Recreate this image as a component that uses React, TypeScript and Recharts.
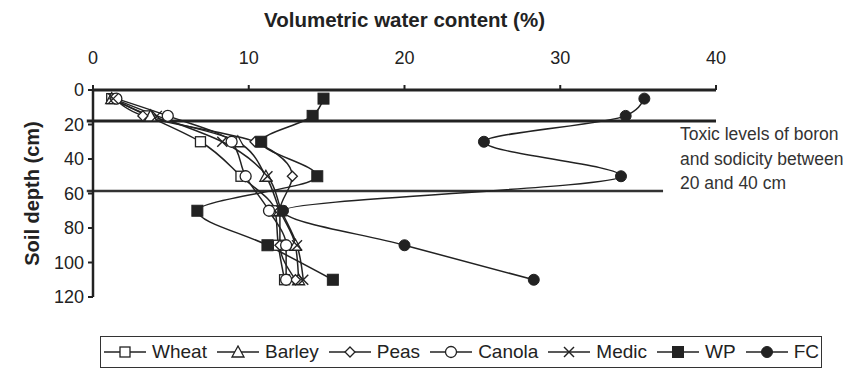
import React from 'react';
import { LineChart, Line, XAxis, YAxis, ReferenceLine } from 'recharts';

const depths = [5, 15, 30, 50, 70, 90, 110];
const wheat = [1.2, 3.5, 6.9, 9.5, 11.7, 11.9, 12.3];
const barley = [1.2, 3.7, 9.3, 11.1, 12.0, 13.0, 13.2];
const peas = [1.4, 3.2, 10.4, 12.8, 12.0, 12.0, 13.0];
const canola = [1.5, 4.8, 8.9, 9.8, 11.3, 12.4, 12.4];
const medic = [1.3, 4.1, 8.3, 11.2, 12.1, 13.1, 13.5];
const wp = [14.8, 14.1, 10.8, 14.4, 6.7, 11.2, 15.4];
const fc = [35.4, 34.2, 25.1, 33.9, 12.2, 20.0, 28.3];

const xTicks = [0, 10, 20, 30, 40];
const yTicks = [0, 20, 40, 60, 80, 100, 120];
const toxicTop = 18;
const toxicBottom = 58.5;

const data = depths.map((d, i) => ({
  depth: d,
  Wheat: wheat[i],
  Barley: barley[i],
  Peas: peas[i],
  Canola: canola[i],
  Medic: medic[i],
  WP: wp[i],
  FC: fc[i],
}));

const INK = '#222';
const FONT = '"Liberation Sans", Arial, sans-serif';

type Shape = 'square' | 'triangle' | 'diamond' | 'circle' | 'x' | 'fsquare' | 'fcircle';

function Marker({ shape, cx, cy }: { shape: Shape; cx: number; cy: number }) {
  const sw = 1.3;
  switch (shape) {
    case 'square':
      return <rect x={cx - 5} y={cy - 5} width={10} height={10} fill="#fff" stroke={INK} strokeWidth={sw} />;
    case 'triangle':
      return <polygon points={`${cx},${cy - 6} ${cx - 6},${cy + 5} ${cx + 6},${cy + 5}`} fill="#fff" stroke={INK} strokeWidth={sw} />;
    case 'diamond':
      return <polygon points={`${cx},${cy - 5} ${cx + 5},${cy} ${cx},${cy + 5} ${cx - 5},${cy}`} fill="#fff" stroke={INK} strokeWidth={sw} />;
    case 'circle':
      return <circle cx={cx} cy={cy} r={5.5} fill="#fff" stroke={INK} strokeWidth={sw} />;
    case 'x':
      return (
        <g stroke={INK} strokeWidth={1.4}>
          <line x1={cx - 5} y1={cy - 5} x2={cx + 5} y2={cy + 5} />
          <line x1={cx - 5} y1={cy + 5} x2={cx + 5} y2={cy - 5} />
        </g>
      );
    case 'fsquare':
      return <rect x={cx - 5.5} y={cy - 5.5} width={11} height={11} fill={INK} stroke={INK} />;
    case 'fcircle':
      return <circle cx={cx} cy={cy} r={5.5} fill={INK} stroke={INK} />;
  }
  return null;
}

const makeDot = (shape: Shape) => (props: any) => {
  const { cx, cy, index } = props;
  if (cx == null || cy == null) return <g key={`n${index}`} />;
  return (
    <g key={`${shape}${index}`}>
      <Marker shape={shape} cx={cx} cy={cy} />
    </g>
  );
};

const seriesDefs: { key: string; shape: Shape }[] = [
  { key: 'Wheat', shape: 'square' },
  { key: 'Barley', shape: 'triangle' },
  { key: 'Peas', shape: 'diamond' },
  { key: 'Canola', shape: 'circle' },
  { key: 'Medic', shape: 'x' },
  { key: 'WP', shape: 'fsquare' },
  { key: 'FC', shape: 'fcircle' },
];

function LegendBox() {
  return (
    <div
      style={{
        position: 'absolute',
        left: 92,
        top: 328,
        width: 722,
        height: 32,
        border: '1px solid #333',
        boxSizing: 'border-box',
        display: 'flex',
        alignItems: 'center',
        justifyContent: 'center',
        fontFamily: FONT,
        fontSize: 19,
        color: INK,
        whiteSpace: 'nowrap',
      }}
    >
      {seriesDefs.map((s, i) => (
        <span
          key={s.key}
          style={{ display: 'flex', alignItems: 'center', marginRight: i === seriesDefs.length - 1 ? 0 : 9 }}
        >
          <svg width={44} height={14} style={{ marginRight: 5 }}>
            <line x1={1} y1={7} x2={43} y2={7} stroke={INK} strokeWidth={1.5} />
            <Marker shape={s.shape} cx={22} cy={7} />
          </svg>
          <span>{s.key}</span>
        </span>
      ))}
    </div>
  );
}

export default function App() {
  return (
    <div style={{ position: 'relative', width: 844, height: 366 }}>
      <LineChart
        layout="vertical"
        width={844}
        height={366}
        data={data}
        margin={{ top: 22, right: 136, bottom: 77, left: 0 }}
      >
        <XAxis
          type="number"
          orientation="top"
          domain={[0, 40]}
          ticks={xTicks}
          height={60}
          tickSize={5}
          tickMargin={21}
          tick={{ fill: INK, fontSize: 18, fontFamily: FONT }}
          axisLine={{ stroke: INK, strokeWidth: 3 }}
          tickLine={{ stroke: INK, strokeWidth: 2 }}
          label={{
            content: (p: any) => {
              const vb = p.viewBox || { x: 85, y: 22, width: 623 };
              return (
                <text
                  x={vb.x + vb.width / 2}
                  y={19}
                  textAnchor="middle"
                  fontFamily={FONT}
                  fontSize={20.5}
                  fontWeight="bold"
                  fill={INK}
                >
                  Volumetric water content (%)
                </text>
              );
            },
          }}
        />
        <YAxis
          type="number"
          dataKey="depth"
          domain={[0, 120]}
          ticks={yTicks}
          width={85}
          tickSize={5}
          tickMargin={4}
          tick={{ fill: INK, fontSize: 18, fontFamily: FONT }}
          axisLine={{ stroke: INK, strokeWidth: 2.5 }}
          tickLine={{ stroke: INK, strokeWidth: 2 }}
          label={{
            content: (p: any) => {
              const vb = p.viewBox || { x: 0, y: 82, height: 207 };
              const cx = 24;
              const cy = vb.y + vb.height / 2;
              return (
                <text
                  x={cx}
                  y={cy}
                  transform={`rotate(-90 ${cx} ${cy})`}
                  textAnchor="middle"
                  dominantBaseline="central"
                  fontFamily={FONT}
                  fontSize={20}
                  fontWeight="bold"
                  fill={INK}
                >
                  Soil depth (cm)
                </text>
              );
            },
          }}
        />
        <ReferenceLine
          segment={[
            { x: -0.4, y: toxicTop },
            { x: 40, y: toxicTop },
          ]}
          stroke={INK}
          strokeWidth={3}
          ifOverflow="visible"
        />
        <ReferenceLine
          segment={[
            { x: -0.4, y: toxicBottom },
            { x: 36.6, y: toxicBottom },
          ]}
          stroke="#333"
          strokeWidth={2.5}
          ifOverflow="visible"
        />
        {seriesDefs.map((s) => (
          <Line
            key={s.key}
            dataKey={s.key}
            type="monotone"
            stroke={INK}
            strokeWidth={1.5}
            dot={makeDot(s.shape)}
            activeDot={false}
            isAnimationActive={false}
          />
        ))}
      </LineChart>
      <div
        style={{
          position: 'absolute',
          left: 672,
          top: 114,
          fontFamily: FONT,
          fontSize: 17.5,
          lineHeight: '24.5px',
          color: '#333',
          whiteSpace: 'nowrap',
        }}
      >
        Toxic levels of boron
        <br />
        and sodicity between
        <br />
        20 and 40 cm
      </div>
      <LegendBox />
    </div>
  );
}
